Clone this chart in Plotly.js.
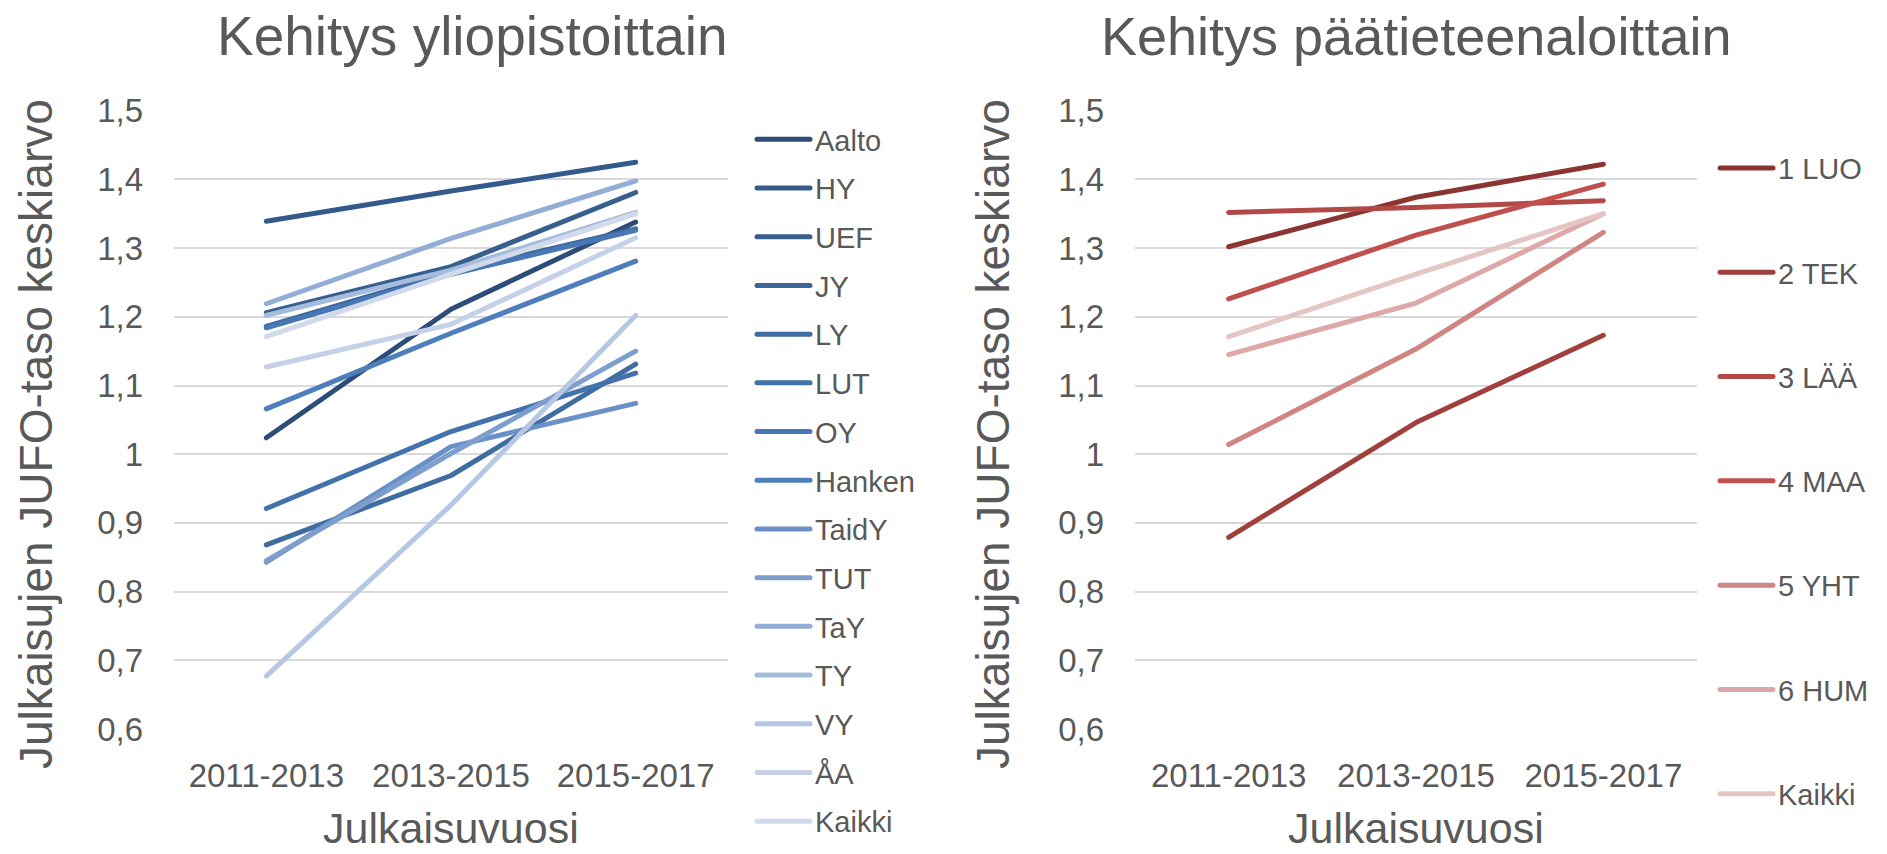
<!DOCTYPE html>
<html>
<head>
<meta charset="utf-8">
<script src="https://cdn.plot.ly/plotly-3.0.1.min.js"></script>
<style>
html,body{margin:0;padding:0;background:#ffffff;}
#chart{width:1887px;height:854px;}
path.js-line{stroke-linecap:round;stroke-linejoin:round;}
</style>
</head>
<body>
<div id="chart"></div>
<script>
// ---- categories ----
const periods = ["2011-2013", "2013-2015", "2015-2017"];

// ---- left chart: universities ----
const uniNames = ["Aalto", "HY", "UEF", "JY", "LY", "LUT", "OY", "Hanken", "TaidY", "TUT", "TaY", "TY", "VY", "ÅA", "Kaikki"];
const uniAalto  = [1.024, 1.211, 1.338];
const uniHY     = [1.339, 1.383, 1.425];
const uniUEF    = [1.206, 1.273, 1.381];
const uniJY     = [1.186, 1.265, 1.328];
const uniLY     = [0.868, 0.969, 1.131];
const uniLUT    = [0.921, 1.033, 1.118];
const uniOY     = [1.184, 1.262, 1.326];
const uniHanken = [1.066, 1.176, 1.281];
const uniTaidY  = [0.843, 1.011, 1.074];
const uniTUT    = [0.845, 1.001, 1.150];
const uniTaY    = [1.219, 1.314, 1.398];
const uniTY     = [1.202, 1.268, 1.352];
const uniVY     = [0.677, 0.926, 1.202];
const uniAA     = [1.127, 1.189, 1.315];
const uniKaikki = [1.171, 1.262, 1.350];
const uniValues = [uniAalto, uniHY, uniUEF, uniJY, uniLY, uniLUT, uniOY, uniHanken, uniTaidY, uniTUT, uniTaY, uniTY, uniVY, uniAA, uniKaikki];
const uniColors = ["#2C4D77", "#335A8A", "#38608F", "#3C6698", "#3F6CA1", "#4371AB", "#4777B4", "#4E7EBC",
                   "#6A91C7", "#7E9FCE", "#93AED6", "#A5BCDD", "#B6C7E3", "#C4D1E8", "#D0DAEB"];

// ---- right chart: main fields ----
const fieldNames = ["1 LUO", "2 TEK", "3 LÄÄ", "4 MAA", "5 YHT", "6 HUM", "Kaikki"];
const fieldLUO    = [1.302, 1.374, 1.422];
const fieldTEK    = [0.879, 1.046, 1.173];
const fieldLAA    = [1.352, 1.359, 1.369];
const fieldMAA    = [1.226, 1.319, 1.393];
const fieldYHT    = [1.014, 1.153, 1.323];
const fieldHUM    = [1.145, 1.220, 1.350];
const fieldKaikki = [1.171, 1.262, 1.350];
const fieldValues = [fieldLUO, fieldTEK, fieldLAA, fieldMAA, fieldYHT, fieldHUM, fieldKaikki];
const fieldColors = ["#8B3533", "#A0403D", "#B24946", "#C0504D", "#D08582", "#DDA8A7", "#E6C6C5"];

// ---- axis ticks ----
const yTickVals = [0.6, 0.7, 0.8, 0.9, 1.0, 1.1, 1.2, 1.3, 1.4, 1.5];
const yTickText = ["0,6", "0,7", "0,8", "0,9", "1", "1,1", "1,2", "1,3", "1,4", "1,5"];

// ---- texts ----
const titleLeft = "Kehitys yliopistoittain";
const titleRight = "Kehitys päätieteenaloittain";
const yTitle = "Julkaisujen JUFO-taso keskiarvo";
const xTitle = "Julkaisuvuosi";

const W = 1887, H = 854;
const FONT = "'Liberation Sans', Arial, sans-serif";
const TXT = "#595959";
const px = v => v / W;
const py = v => 1 - v / H;

const traces = [];
uniNames.forEach((n, i) => {
  traces.push({
    type: "scatter", mode: "lines", name: n,
    x: periods, y: uniValues[i],
    xaxis: "x", yaxis: "y",
    line: {color: uniColors[i], width: 5},
    legend: "legend", legendgroup: "u" + i, hoverinfo: "skip"
  });
});
fieldNames.forEach((n, i) => {
  traces.push({
    type: "scatter", mode: "lines", name: n,
    x: periods, y: fieldValues[i],
    xaxis: "x2", yaxis: "y2",
    line: {color: fieldColors[i], width: 5},
    legend: "legend2", legendgroup: "f" + i, hoverinfo: "skip"
  });
});

const yDom = [1 - 729 / H, 1 - 110.7 / H];
const xAxisBase = {
  type: "category", range: [-0.5, 2.5], showgrid: false, zeroline: false, showline: false,
  ticks: "", tickangle: 0, tickfont: {family: FONT, size: 33, color: TXT}, ticklabelstandoff: 24, fixedrange: true
};
const yAxisBase = {
  range: [0.6, 1.5], tickmode: "array", tickvals: yTickVals, ticktext: yTickText,
  showgrid: true, gridcolor: "#D9D9D9", gridwidth: 2, zeroline: false, showline: false,
  ticks: "", tickfont: {family: FONT, size: 33, color: TXT}, ticklabelstandoff: 30, fixedrange: true
};

const layout = {
  width: W, height: H,
  margin: {l: 0, r: 0, t: 0, b: 0},
  paper_bgcolor: "#ffffff", plot_bgcolor: "#ffffff",
  separators: ", ",
  hovermode: false,
  showlegend: true,
  xaxis: Object.assign({}, xAxisBase, {domain: [px(174), px(728)], anchor: "y"}),
  yaxis: Object.assign({}, yAxisBase, {domain: yDom, anchor: "x"}),
  xaxis2: Object.assign({}, xAxisBase, {domain: [px(1135), px(1697)], anchor: "y2"}),
  yaxis2: Object.assign({}, yAxisBase, {domain: yDom, anchor: "x2"}),
  legend: {
    x: px(752), xanchor: "left", y: py(114), yanchor: "top",
    font: {family: FONT, size: 29, color: TXT}, itemwidth: 53,
    tracegroupgap: 8, bgcolor: "rgba(0,0,0,0)", borderwidth: 0
  },
  legend2: {
    x: px(1715), xanchor: "left", y: py(142.6), yanchor: "top",
    font: {family: FONT, size: 29, color: TXT}, itemwidth: 53,
    tracegroupgap: 63.6, bgcolor: "rgba(0,0,0,0)", borderwidth: 0
  },
  annotations: [
    {text: titleLeft, xref: "paper", yref: "paper", x: px(473), y: py(36), showarrow: false,
     xanchor: "center", yanchor: "middle", font: {family: FONT, size: 55, color: TXT}},
    {text: titleRight, xref: "paper", yref: "paper", x: px(1416), y: py(36), showarrow: false,
     xanchor: "center", yanchor: "middle", font: {family: FONT, size: 54, color: TXT}},
    {text: yTitle, xref: "paper", yref: "paper", x: px(36), y: py(434), showarrow: false, textangle: -90,
     xanchor: "center", yanchor: "middle", font: {family: FONT, size: 46, color: TXT}},
    {text: yTitle, xref: "paper", yref: "paper", x: px(993), y: py(434), showarrow: false, textangle: -90,
     xanchor: "center", yanchor: "middle", font: {family: FONT, size: 46, color: TXT}},
    {text: xTitle, xref: "paper", yref: "paper", x: px(451), y: 0, showarrow: false,
     xanchor: "center", yanchor: "bottom", font: {family: FONT, size: 43, color: TXT}},
    {text: xTitle, xref: "paper", yref: "paper", x: px(1416), y: 0, showarrow: false,
     xanchor: "center", yanchor: "bottom", font: {family: FONT, size: 43, color: TXT}}
  ]
};

Plotly.newPlot("chart", traces, layout, {displayModeBar: false, staticPlot: true, responsive: false});
</script>
</body>
</html>
